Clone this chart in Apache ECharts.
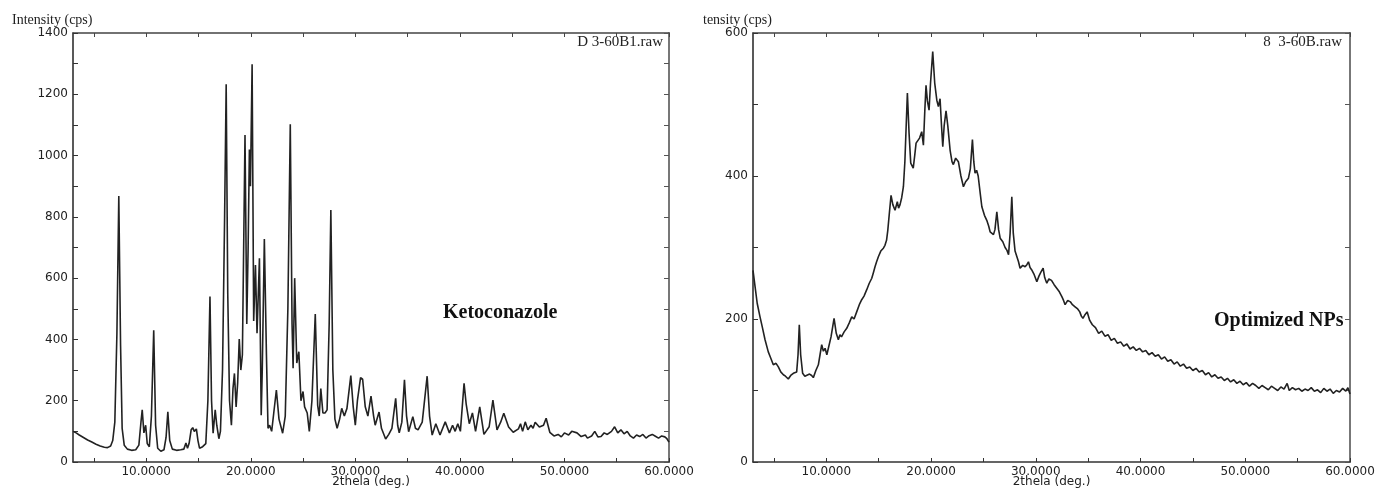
<!DOCTYPE html>
<html>
<head>
<meta charset="utf-8">
<title>XRD</title>
<script src="https://cdn.jsdelivr.net/npm/echarts@6.0.0/dist/echarts.min.js"></script>
<style>
  html, body { margin: 0; padding: 0; background: #fff; }
  #chart { width: 1375px; height: 489px; }
</style>
</head>
<body>
<div id="chart"></div>
<script>
// Ketoconazole pattern (2theta, counts)
const ketoTheta = [
  3.0, 3.3, 3.6, 4.0, 4.4, 4.8, 5.2, 5.6, 6.0, 6.3, 6.6, 6.8, 7.0, 7.2, 7.38, 7.55, 7.7, 7.9, 8.2, 8.6,
  9.0, 9.3, 9.5, 9.62, 9.78, 9.95, 10.1, 10.3, 10.5, 10.72, 10.9, 11.1, 11.4, 11.7, 11.9, 12.07, 12.25, 12.5, 12.9, 13.3,
  13.6, 13.8, 13.95, 14.1, 14.3, 14.45, 14.6, 14.8, 14.95, 15.1, 15.4, 15.7, 15.9, 16.1, 16.25, 16.4, 16.6, 16.75, 16.95, 17.1,
  17.3, 17.5, 17.65, 17.8, 17.97, 18.15, 18.3, 18.44, 18.6, 18.75, 18.9, 19.05, 19.2, 19.45, 19.62, 19.75, 19.87, 19.97, 20.13, 20.28,
  20.45, 20.6, 20.83, 21.0, 21.1, 21.3, 21.5, 21.65, 21.8, 22.0, 22.2, 22.45, 22.7, 23.05, 23.3, 23.55, 23.78, 23.95, 24.05, 24.2,
  24.4, 24.6, 24.8, 25.0, 25.15, 25.4, 25.6, 25.85, 26.17, 26.4, 26.55, 26.7, 26.9, 27.1, 27.3, 27.5, 27.66, 27.85, 28.05, 28.26,
  28.5, 28.7, 28.95, 29.2, 29.57, 29.8, 30.0, 30.2, 30.5, 30.7, 30.95, 31.2, 31.5, 31.75, 31.9, 32.27, 32.5, 32.9, 33.2, 33.5,
  33.86, 34.05, 34.2, 34.45, 34.7, 34.9, 35.1, 35.5, 35.75, 36.0, 36.4, 36.87, 37.1, 37.35, 37.7, 38.1, 38.6, 39.0, 39.3, 39.55,
  39.8, 40.05, 40.4, 40.6, 40.9, 41.2, 41.5, 41.9, 42.3, 42.8, 43.16, 43.55, 43.9, 44.2, 44.66, 45.1, 45.6, 45.8, 46.0, 46.25,
  46.5, 46.8, 47.0, 47.2, 47.6, 48.0, 48.25, 48.6, 49.0, 49.4, 49.7, 50.0, 50.4, 50.7, 51.2, 51.6, 52.0, 52.2, 52.6, 52.9,
  53.2, 53.5, 53.8, 54.1, 54.5, 54.8, 55.1, 55.4, 55.7, 56.0, 56.3, 56.6, 56.9, 57.2, 57.5, 57.8, 58.1, 58.4, 58.7, 59.0,
  59.3, 59.6, 59.8, 60.0
];
const ketoCounts = [
  100, 95, 88, 80, 72, 65, 58, 52, 48, 47, 52, 70, 130, 420, 868, 380, 110, 55, 42, 38,
  40, 55, 130, 170, 95, 120, 60, 50, 150, 430, 120, 45, 35, 40, 80, 164, 70, 42, 38, 40,
  42, 62, 45, 60, 105, 112, 100, 108, 70, 45, 50, 60, 200, 540, 200, 94, 170, 120, 76, 100,
  300, 800, 1233, 550, 200, 120, 240, 289, 180, 260, 401, 300, 350, 1067, 450, 700, 1020, 900, 1298, 460,
  643, 420, 665, 153, 300, 728, 350, 110, 120, 100, 160, 235, 140, 94, 150, 500, 1102, 450, 306, 600,
  323, 360, 200, 230, 180, 160, 100, 200, 483, 185, 150, 240, 160, 160, 170, 450, 822, 300, 140, 110,
  140, 175, 150, 175, 282, 180, 120, 200, 275, 270, 180, 150, 215, 150, 120, 163, 110, 75, 90, 110,
  208, 120, 95, 130, 268, 150, 99, 148, 110, 105, 130, 280, 150, 88, 125, 88, 131, 95, 120, 100,
  125, 100, 257, 190, 125, 160, 100, 180, 90, 115, 202, 105, 130, 159, 114, 97, 108, 125, 100, 131,
  105, 120, 110, 130, 114, 120, 143, 97, 85, 90, 82, 95, 88, 100, 95, 83, 88, 78, 85, 100,
  82, 83, 95, 90, 100, 115, 95, 105, 92, 100, 85, 78, 88, 83, 90, 78, 86, 90, 84, 78,
  85, 82, 76, 65
];

// Optimized NPs pattern (2theta, counts)
const npTheta = [
  3.0, 3.2, 3.4, 3.67, 3.9, 4.15, 4.46, 4.7, 4.94, 5.2, 5.42, 5.65, 5.9, 6.1, 6.37, 6.6, 6.85, 7.17, 7.3, 7.42,
  7.55, 7.74, 7.95, 8.13, 8.4, 8.6, 8.76, 9.0, 9.24, 9.4, 9.56, 9.72, 9.88, 10.05, 10.2, 10.45, 10.74, 10.95, 11.15, 11.3,
  11.45, 11.7, 11.95, 12.2, 12.43, 12.65, 12.9, 13.15, 13.38, 13.6, 13.86, 14.1, 14.34, 14.5, 14.65, 14.8, 14.97, 15.2, 15.45, 15.6,
  15.75, 15.87, 16.0, 16.18, 16.35, 16.56, 16.78, 16.9, 17.04, 17.2, 17.36, 17.5, 17.74, 17.9, 18.06, 18.3, 18.45, 18.57, 18.75, 18.9,
  19.11, 19.27, 19.4, 19.52, 19.65, 19.81, 19.95, 20.16, 20.35, 20.55, 20.7, 20.86, 21.0, 21.12, 21.25, 21.43, 21.6, 21.82, 22.0, 22.13,
  22.35, 22.61, 22.85, 23.09, 23.3, 23.57, 23.75, 23.95, 24.08, 24.2, 24.35, 24.5, 24.7, 24.85, 25.1, 25.32, 25.5, 25.64, 25.8, 25.96,
  26.1, 26.28, 26.45, 26.6, 26.85, 27.07, 27.25, 27.4, 27.55, 27.71, 27.85, 28.02, 28.17, 28.35, 28.5, 28.75, 28.98, 29.15, 29.3, 29.45,
  29.6, 29.85, 30.1, 30.3, 30.5, 30.7, 30.85, 31.05, 31.25, 31.5, 31.75, 32.0, 32.25, 32.5, 32.65, 32.8, 33.05, 33.3, 33.5, 33.75,
  34.0, 34.2, 34.35, 34.5, 34.7, 34.9, 35.15, 35.4, 35.7, 36.0, 36.3, 36.6, 36.9, 37.2, 37.5, 37.8, 38.1, 38.4, 38.7, 39.0,
  39.3, 39.6, 39.9, 40.2, 40.5, 40.8, 41.1, 41.4, 41.7, 42.0, 42.3, 42.6, 42.9, 43.2, 43.5, 43.8, 44.1, 44.4, 44.7, 45.0,
  45.3, 45.6, 45.9, 46.2, 46.5, 46.8, 47.1, 47.4, 47.7, 48.0, 48.3, 48.6, 48.9, 49.2, 49.5, 49.8, 50.1, 50.4, 50.7, 51.0,
  51.3, 51.6, 51.9, 52.2, 52.5, 52.8, 53.1, 53.4, 53.7, 54.0, 54.2, 54.5, 54.8, 55.1, 55.4, 55.7, 56.0, 56.3, 56.6, 56.9,
  57.2, 57.5, 57.8, 58.1, 58.4, 58.7, 59.0, 59.3, 59.6, 59.8, 60.0
];
const npCounts = [
  268, 245, 222, 203, 188, 171, 154, 145, 136, 138, 133, 126, 122, 120, 116, 121, 124, 126, 150, 192,
  150, 124, 120, 119, 123, 121, 118, 128, 136, 150, 164, 155, 159, 150, 152, 175, 201, 180, 171, 178,
  175, 182, 187, 195, 203, 200, 210, 220, 227, 232, 241, 250, 257, 265, 273, 280, 287, 295, 299, 303,
  310, 324, 345, 373, 360, 352, 364, 355, 360, 370, 385, 420, 516, 460, 418, 411, 430, 446, 448, 453,
  462, 443, 490, 527, 505, 492, 530, 574, 530, 506, 497, 508, 470, 441, 470, 491, 470, 436, 420, 416,
  425, 420, 400, 385, 392, 397, 410, 451, 420, 404, 408, 400, 375, 357, 345, 338, 330, 322, 320, 318,
  325, 350, 325, 313, 308, 300, 296, 290, 320, 371, 320, 295, 297, 280, 271, 275, 273, 276, 280, 272,
  269, 262, 252, 260, 266, 271, 258, 250, 256, 254, 248, 243, 238, 231, 226, 220, 226, 224, 220, 217,
  214, 210, 204, 201, 206, 210, 198, 192, 188, 180, 183, 176, 178, 170, 173, 166, 168, 162, 165, 158,
  161, 156, 159, 154, 156, 150, 153, 148, 150, 144, 147, 141, 143, 137, 140, 134, 137, 131, 133, 128,
  131, 126, 128, 122, 125, 119, 122, 117, 119, 114, 117, 112, 115, 110, 113, 108, 111, 106, 110, 107,
  103, 107, 104, 101, 106, 103, 100, 105, 102, 110, 100, 104, 101, 103, 99, 102, 100, 104, 99, 101,
  97, 103, 99, 102, 96, 100, 98, 103, 99, 104, 95
];

// axis ticks and labels
const xTickValues = [5, 10, 15, 20, 25, 30, 35, 40, 45, 50, 55, 60];
const xLabelValues = [10, 20, 30, 40, 50, 60];
const ketoYLabels = [0, 200, 400, 600, 800, 1000, 1200, 1400];
const npYLabels = [0, 200, 400, 600];

const chart = echarts.init(document.getElementById('chart'));

const tickFont = { fontFamily: 'DejaVu Sans', fontSize: 12, color: '#222' };

// bottom x axis with labels
const bottomX = (gridIndex) => ({
  type: 'value', gridIndex, min: 3, max: 60,
  splitLine: { show: false },
  axisLine: { show: true, onZero: false, lineStyle: { color: '#333', width: 1.5 } },
  axisTick: { show: true, inside: true, length: 4, customValues: xTickValues, lineStyle: { color: '#333' } },
  axisLabel: { ...tickFont, margin: 4, customValues: xLabelValues, formatter: v => v.toFixed(4) },
  name: '2thela (deg.)', nameLocation: 'middle', nameGap: 14, nameMoveOverlap: false,
  nameTextStyle: { fontFamily: 'DejaVu Sans', fontSize: 12, color: '#222', verticalAlign: 'top' }
});
// top frame line with ticks
const topX = (gridIndex) => ({
  type: 'value', gridIndex, min: 3, max: 60, position: 'top',
  splitLine: { show: false },
  axisLine: { show: true, onZero: false, lineStyle: { color: '#444', width: 1.5 } },
  axisTick: { show: true, inside: true, length: 4, customValues: xTickValues, lineStyle: { color: '#444' } },
  axisLabel: { show: false }
});
const leftY = (gridIndex, max, labels) => ({
  type: 'value', gridIndex, min: 0, max, interval: 100,
  splitLine: { show: false },
  axisLine: { show: true, lineStyle: { color: '#222', width: 1.5 } },
  axisTick: { show: true, inside: true, length: 5, lineStyle: { color: '#333' } },
  axisLabel: { ...tickFont, margin: 5, customValues: labels, formatter: v => String(v) }
});
const rightY = (gridIndex, max) => ({
  type: 'value', gridIndex, min: 0, max, interval: 100, position: 'right',
  splitLine: { show: false },
  axisLine: { show: true, lineStyle: { color: '#777', width: 2 } },
  axisTick: { show: true, inside: true, length: 5, lineStyle: { color: '#555' } },
  axisLabel: { show: false }
});

const trace = (theta, counts, xAxisIndex, yAxisIndex) => ({
  type: 'line', xAxisIndex, yAxisIndex,
  data: theta.map((t, i) => [t, counts[i]]),
  showSymbol: false, symbol: 'none',
  lineStyle: { color: '#222', width: 1.6 },
  silent: true
});

chart.setOption({
  animation: false,
  backgroundColor: '#fff',
  grid: [
    { left: 73, top: 33, width: 596, height: 429, outerBoundsMode: 'none' },
    { left: 753, top: 33, width: 597, height: 429, outerBoundsMode: 'none' }
  ],
  xAxis: [bottomX(0), topX(0), bottomX(1), topX(1)],
  yAxis: [leftY(0, 1400, ketoYLabels), rightY(0, 1400), leftY(1, 600, npYLabels), rightY(1, 600)],
  series: [
    trace(ketoTheta, ketoCounts, 0, 0),
    trace(npTheta, npCounts, 2, 2)
  ],
  graphic: [
    { type: 'text', x: 12, y: 20, style: { text: 'Intensity (cps)', font: '14px "Liberation Serif"', fill: '#222', textVerticalAlign: 'middle' } },
    { type: 'text', x: 703, y: 20, style: { text: 'tensity (cps)', font: '14px "Liberation Serif"', fill: '#222', textVerticalAlign: 'middle' } },
    { type: 'text', x: 663, y: 42, style: { text: 'D 3-60B1.raw', font: '15px "Liberation Serif"', fill: '#222', textAlign: 'right', textVerticalAlign: 'middle' } },
    { type: 'text', x: 1342, y: 42, style: { text: '8  3-60B.raw', font: '15px "Liberation Serif"', fill: '#222', textAlign: 'right', textVerticalAlign: 'middle' } },
    { type: 'text', x: 443, y: 313, style: { text: 'Ketoconazole', font: 'bold 20px "Liberation Serif"', fill: '#111', textVerticalAlign: 'middle' } },
    { type: 'text', x: 1214, y: 321, style: { text: 'Optimized NPs', font: 'bold 20px "Liberation Serif"', fill: '#111', textVerticalAlign: 'middle' } }
  ]
});
</script>
</body>
</html>
